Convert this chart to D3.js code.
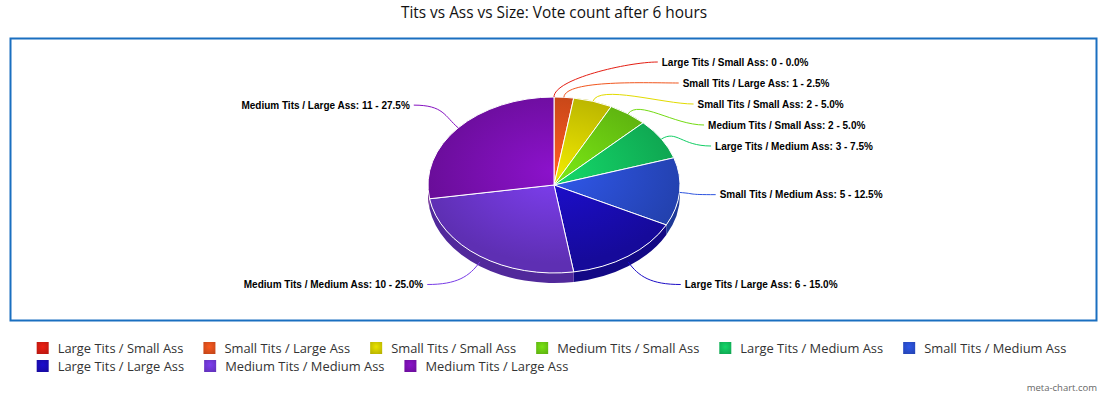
<!DOCTYPE html>
<html>
<head>
<meta charset="utf-8">
<script src="https://cdn.jsdelivr.net/npm/d3@7"></script>
<style>
  body { margin: 0; background: #fff; }
  svg { display: block; }
</style>
</head>
<body>
<div id="chart"></div>
<script>
// Chart data
const categories = [
    "Large Tits / Small Ass", "Small Tits / Large Ass", "Small Tits / Small Ass",
    "Medium Tits / Small Ass", "Large Tits / Medium Ass", "Small Tits / Medium Ass",
    "Large Tits / Large Ass", "Medium Tits / Medium Ass", "Medium Tits / Large Ass"
];
const votes = [0, 1, 2, 2, 3, 5, 6, 10, 11];
const sliceColors = ["#d41c12", "#e0501c", "#d2cc00", "#6ccc12", "#12c05e", "#2a4ed0", "#1a0cb8", "#7038d6", "#7c10b4"];

const W = 1103, H = 395;
const cx = 554, cy = 185, rx = 126, ry = 88, depth = 10;

const svg = d3.select("#chart").append("svg")
    .attr("width", W)
    .attr("height", H);

const defs = svg.append("defs");

// Title
svg.append("text")
    .attr("x", 554)
    .attr("y", 18)
    .attr("text-anchor", "middle")
    .style("font-family", "'Open Sans', sans-serif")
    .style("font-size", "15.4px")
    .style("fill", "#111")
    .text("Tits vs Ass vs Size: Vote count after 6 hours");

// Frame round the plot area
svg.append("rect")
    .attr("x", 10.5)
    .attr("y", 38.5)
    .attr("width", 1086)
    .attr("height", 282)
    .attr("fill", "none")
    .attr("stroke", "#1a6fc0")
    .attr("stroke-width", 2);

// gradients for the slices
sliceColors.forEach(function(c, i) {
    const g = defs.append("radialGradient")
        .attr("id", "grad" + i)
        .attr("gradientUnits", "userSpaceOnUse")
        .attr("cx", cx).attr("cy", cy - 20)
        .attr("r", rx * 1.05)
        .attr("gradientTransform", `translate(0,${cy}) scale(1,${ry / rx}) translate(0,${-cy})`);
    g.append("stop").attr("offset", "0%").attr("stop-color", d3.color(c).brighter(0.35));
    g.append("stop").attr("offset", "100%").attr("stop-color", d3.color(c).darker(0.5));

    const lg = defs.append("radialGradient")
        .attr("id", "lgrad" + i)
        .attr("cx", "50%").attr("cy", "40%").attr("r", "70%");
    lg.append("stop").attr("offset", "0%").attr("stop-color", d3.color(c).brighter(0.3));
    lg.append("stop").attr("offset", "100%").attr("stop-color", d3.color(c).darker(0.4));
});

const pie = d3.pie().sort(null).value(d => d)
    .startAngle(0).endAngle(2 * Math.PI);
const arcs = pie(votes);

const pt = (a, dy = 0) => [cx + rx * Math.sin(a), cy - ry * Math.cos(a) + dy];

// side walls (front half only)
const sides = svg.append("g");
arcs.forEach(function(d, i) {
    const a0 = Math.max(d.startAngle, Math.PI / 2);
    const a1 = Math.min(d.endAngle, 3 * Math.PI / 2);
    if (a1 <= a0) return;
    const p0 = pt(a0), p1 = pt(a1), q1 = pt(a1, depth), q0 = pt(a0, depth);
    const large = (a1 - a0) > Math.PI ? 1 : 0;
    const path = `M${p0}A${rx},${ry} 0 ${large} 1 ${p1}L${q1}A${rx},${ry} 0 ${large} 0 ${q0}Z`;
    sides.append("path")
        .attr("d", path)
        .attr("fill", d3.color(sliceColors[i]).darker(0.9));
});

// top faces
const tops = svg.append("g");
arcs.forEach(function(d, i) {
    if (d.endAngle - d.startAngle <= 0) return;
    const p0 = pt(d.startAngle), p1 = pt(d.endAngle);
    const large = (d.endAngle - d.startAngle) > Math.PI ? 1 : 0;
    tops.append("path")
        .attr("d", `M${cx},${cy}L${p0}A${rx},${ry} 0 ${large} 1 ${p1}Z`)
        .attr("fill", `url(#grad${i})`)
        .attr("stroke", "#fff")
        .attr("stroke-width", 1)
        .attr("stroke-linejoin", "round");
});

// labels with connectors
const total = d3.sum(votes);
const R = 123, A = 172, B = 164, gap = 21;
const labels = arcs.map(function(d, i) {
    const mid = (d.startAngle + d.endAngle) / 2;
    const right = Math.sin(mid) >= 0 || mid === 0;
    return {i, mid, right, y: cy - R * Math.cos(mid)};
});
[true, false].forEach(function(side) {
    const group = labels.filter(l => l.right === side).sort((a, b) => a.y - b.y);
    for (let k = 1; k < group.length; k++) {
        if (group[k].y < group[k - 1].y + gap) group[k].y = group[k - 1].y + gap;
    }
});

const lab = svg.append("g");
labels.forEach(function(l) {
    const sgn = l.right ? 1 : -1;
    const dy = l.y - cy;
    const xoff = A * Math.sqrt(Math.max(0, 1 - (dy / B) * (dy / B)));
    const textX = cx + sgn * (xoff - 6);
    const endX = textX - sgn * 4;
    const down = Math.cos(l.mid) < 0 ? -Math.cos(l.mid) * depth * 0.7 : 0;
    const s = pt(l.mid, down);
    const dir = [Math.sin(l.mid), -Math.cos(l.mid)];
    const c1 = [s[0] + dir[0] * 18, s[1] + dir[1] * 18];
    const c2 = [endX - sgn * 30, l.y];
    const line = d3.path();
    line.moveTo(s[0], s[1]);
    line.bezierCurveTo(c1[0], c1[1], c2[0], c2[1], endX, l.y);
    lab.append("path")
        .attr("d", line.toString())
        .attr("fill", "none")
        .attr("stroke", d3.color(sliceColors[l.i]).brighter(0.2))
        .attr("stroke-width", 1);
    const pct = (votes[l.i] / total * 100).toFixed(1);
    lab.append("text")
        .attr("x", textX)
        .attr("y", l.y)
        .attr("dy", "0.35em")
        .attr("text-anchor", l.right ? "start" : "end")
        .style("font-family", "'Liberation Sans', Arial, sans-serif")
        .style("font-weight", "bold")
        .style("font-size", "10px")
        .style("fill", "#000")
        .text(`${categories[l.i]}: ${votes[l.i]} - ${pct}%`);
});

// Legend, flowed in rows and centred as a block
const legend = svg.append("g");
const items = categories.map(function(c, i) {
    const g = legend.append("g");
    g.append("rect")
        .attr("width", 12).attr("height", 12)
        .attr("y", -6)
        .attr("fill", `url(#lgrad${i})`);
    const t = g.append("text")
        .attr("x", 21)
        .attr("y", 4.5)
        .style("font-family", "'Open Sans', sans-serif")
        .style("font-size", "12.9px")
        .style("fill", "#333")
        .text(c);
    return {g, w: 21 + t.node().getComputedTextLength() + 20};
});
const maxW = 1060, rowH = 18;
const rows = [[]];
let rowW = 0;
items.forEach(function(it) {
    if (rowW + it.w > maxW && rows[rows.length - 1].length) { rows.push([]); rowW = 0; }
    rows[rows.length - 1].push(it);
    rowW += it.w;
});
const blockW = d3.max(rows, r => d3.sum(r, it => it.w)) - 20;
const x0 = (W - blockW) / 2;
rows.forEach(function(r, ri) {
    let x = x0;
    r.forEach(function(it) {
        it.g.attr("transform", `translate(${x},${348 + ri * rowH})`);
        x += it.w;
    });
});

// credit
svg.append("text")
    .attr("x", 1097)
    .attr("y", 391)
    .attr("text-anchor", "end")
    .style("font-family", "'Open Sans', sans-serif")
    .style("font-size", "9.5px")
    .style("fill", "#666")
    .text("meta-chart.com");
</script>
</body>
</html>
